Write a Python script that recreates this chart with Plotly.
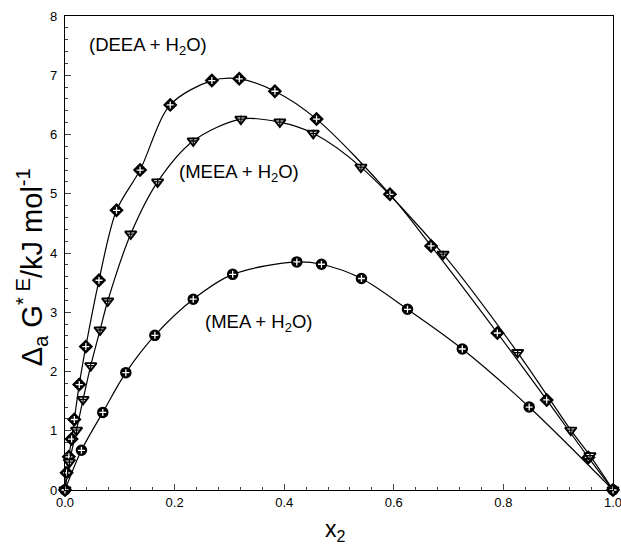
import plotly.graph_objects as go

# DEEA + H2O (diamonds)
deea_x = [0.0, 0.003, 0.007, 0.012, 0.017, 0.026, 0.038, 0.062, 0.094, 0.137, 0.192, 0.268, 0.318,
          0.383, 0.459, 0.593, 0.668, 0.789, 0.879, 0.955, 1.0]
deea_y = [0.0, 0.29, 0.56, 0.86, 1.19, 1.78, 2.42, 3.54, 4.72, 5.40, 6.50, 6.91, 6.94,
          6.73, 6.26, 4.99, 4.12, 2.65, 1.52, 0.55, 0.0]

# MEEA + H2O (triangles)
meea_x = [0.0, 0.008, 0.021, 0.033, 0.047, 0.064, 0.078, 0.120, 0.169, 0.234, 0.321, 0.392,
          0.453, 0.540, 0.690, 0.826, 0.923, 0.958, 1.0]
meea_y = [0.0, 0.47, 1.01, 1.53, 2.10, 2.70, 3.19, 4.32, 5.20, 5.89, 6.26, 6.21,
          6.02, 5.45, 3.98, 2.32, 1.01, 0.58, 0.0]

# MEA + H2O (circles)
mea_x = [0.0, 0.030, 0.069, 0.111, 0.164, 0.234, 0.306, 0.423, 0.468, 0.541, 0.625, 0.725, 0.847, 1.0]
mea_y = [0.0, 0.67, 1.31, 1.98, 2.61, 3.22, 3.64, 3.85, 3.81, 3.57, 3.05, 2.38, 1.40, 0.0]

labels = ["(DEEA + H<sub>2</sub>O)", "(MEEA + H<sub>2</sub>O)", "(MEA + H<sub>2</sub>O)"]
label_x = [0.04, 0.204, 0.252]
label_y = [7.5, 5.35, 2.82]

x_title = "x<sub>2</sub>"
y_title = "Δ<sub>a</sub> G<sup>* E</sup>/kJ mol<sup>-1</sup>"

FONT = "Liberation Sans, Arial, sans-serif"

fig = go.Figure()

def add_series(x, y, symbol, size, open_marker=False):
    fig.add_trace(go.Scatter(x=x, y=y, mode="lines",
                             line=dict(color="black", width=1.2, shape="spline", smoothing=0.9),
                             showlegend=False, hoverinfo="skip"))
    if open_marker:
        mk = dict(symbol=symbol, size=size, color="white", line=dict(color="black", width=1.9))
    else:
        mk = dict(symbol=symbol, size=size, color="black", line=dict(color="black", width=1.5))
    fig.add_trace(go.Scatter(x=x, y=y, mode="markers", marker=mk, cliponaxis=False, showlegend=False))
    fig.add_trace(go.Scatter(x=x, y=y, mode="markers", cliponaxis=False, showlegend=False,
                             marker=dict(symbol="cross-thin", size=5,
                                         line=dict(color="black" if open_marker else "white", width=1.3))))

add_series(deea_x, deea_y, "diamond", 9.5)
add_series(meea_x, meea_y, "triangle-down", 10, open_marker=True)
add_series(mea_x, mea_y, "circle", 10)

for t, x, y in zip(labels, label_x, label_y):
    fig.add_annotation(x=x, y=y, text=t, showarrow=False, xanchor="left", yanchor="middle",
                       font=dict(family=FONT, size=18.5, color="black"))

# axis titles
fig.add_annotation(xref="paper", yref="paper", x=0.494, y=-0.085, text=x_title, showarrow=False,
                   xanchor="center", yanchor="middle", font=dict(family=FONT, size=23, color="black"))
fig.add_annotation(xref="paper", yref="paper", x=-0.06, y=0.47, text=y_title, showarrow=False,
                   textangle=-90, xanchor="center", yanchor="middle",
                   font=dict(family=FONT, size=29, color="black"))

fig.update_xaxes(range=[0, 1], dtick=0.2, tickformat=".1f", ticks="inside", ticklen=6, tickwidth=1,
                 minor=dict(dtick=0.04, ticks="inside", ticklen=3),
                 showline=True, linecolor="black", linewidth=1.2, mirror=True, showgrid=False, zeroline=False,
                 tickfont=dict(family=FONT, size=13, color="black"), automargin=False,
                 ticklabeloverflow="allow")
fig.update_yaxes(range=[0, 8], dtick=1, ticks="inside", ticklen=6, tickwidth=1,
                 minor=dict(dtick=0.2, ticks="inside", ticklen=3),
                 showline=True, linecolor="black", linewidth=1.2, mirror=True, showgrid=False, zeroline=False,
                 tickfont=dict(family=FONT, size=13, color="black"), automargin=False,
                 ticklabelstandoff=4)

fig.update_layout(width=621, height=547, margin=dict(l=65, r=8, t=16, b=57),
                  plot_bgcolor="white", paper_bgcolor="white", showlegend=False)

fig.write_html("out.html", config={"displayModeBar": False},
               post_script="document.body.style.margin='0px';document.body.style.overflow='hidden';")
